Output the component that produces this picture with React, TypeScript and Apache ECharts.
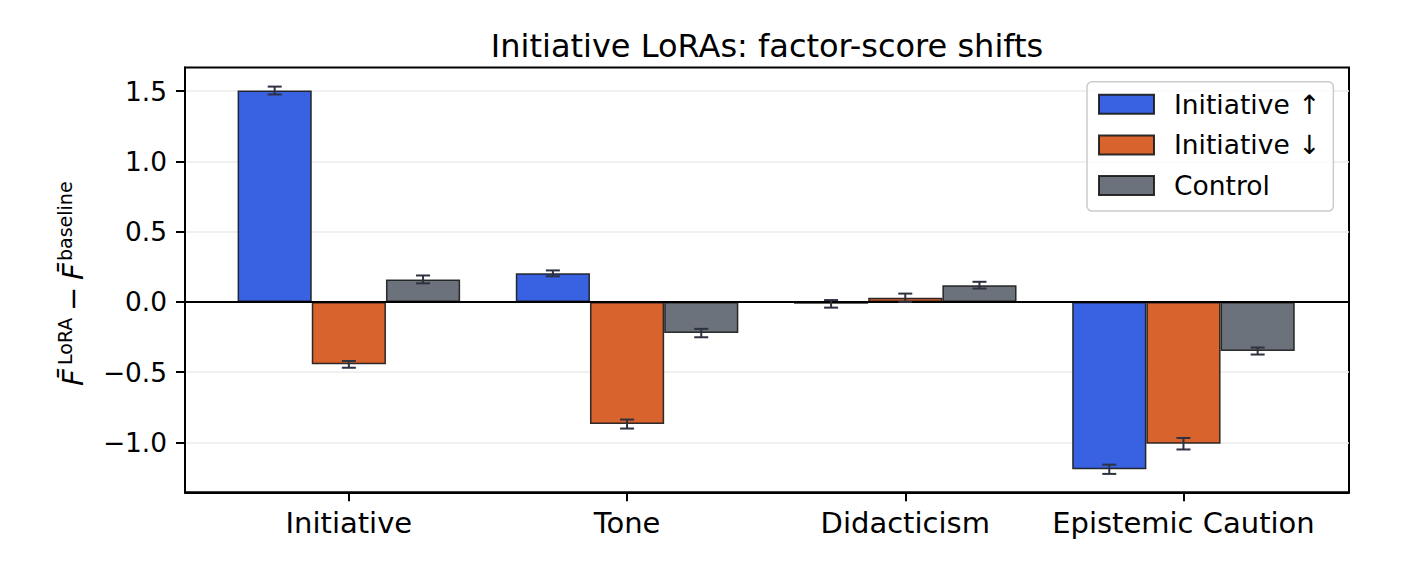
import React, { useEffect, useRef } from 'react';
import * as echarts from 'echarts';

const categories = ['Initiative', 'Tone', 'Didacticism', 'Epistemic Caution'];
const categoryTicks = [0, 1, 2, 3];
const seriesNames = ['Initiative ↑', 'Initiative ↓', 'Control'];
const upValues = [1.505, 0.203, -0.014, -1.192];
const upErrors = [0.028, 0.021, 0.027, 0.033];
const downValues = [-0.445, -0.87, 0.029, -1.01];
const downErrors = [0.024, 0.032, 0.03, 0.041];
const controlValues = [0.16, -0.222, 0.119, -0.35];
const controlErrors = [0.028, 0.03, 0.024, 0.025];
const yTicks = [-1.0, -0.5, 0.0, 0.5, 1.0, 1.5];
const yTickLabels = ['\u22121.0', '\u22120.5', '0.0', '0.5', '1.0', '1.5'];

const FONT = '"DejaVu Sans", "Liberation Sans", sans-serif';
const colors = ['#2251DF', '#D45215', '#5C636D'];
const groupWidth = 0.8;

export default function App() {
  const ref = useRef<HTMLDivElement>(null);
  useEffect(() => {
    if (!ref.current) return;
    const chart = echarts.init(ref.current, undefined, { renderer: 'svg' });
    const allValues = [upValues, downValues, controlValues];
    const allErrors = [upErrors, downErrors, controlErrors];
    const bw = groupWidth / 3;

    const barSeries: any[] = allValues.map((vals, s) => ({
      name: seriesNames[s],
      type: 'bar',
      data: vals.map((v, i) => [categoryTicks[i], v]),
      barGap: '0%',
      barCategoryGap: '20%',
      itemStyle: { color: colors[s], opacity: 0.9, borderColor: '#1a1a1a', borderWidth: 1.5 },
      emphasis: { disabled: true },
      silent: true,
      z: 2,
      ...(s === 0
        ? {
            markLine: {
              silent: true,
              symbol: ['none', 'none'],
              label: { show: false },
              lineStyle: { color: '#000', width: 2, type: 'solid' },
              data: [{ yAxis: 0 }],
              animation: false,
            },
          }
        : {}),
    }));

    const errSeries: any[] = allValues.map((vals, s) => ({
      name: seriesNames[s] + ' err',
      type: 'custom',
      silent: true,
      z: 5,
      encode: { x: 0, y: 1 },
      data: vals.map((v, i) => [categoryTicks[i], v, allErrors[s][i]]),
      renderItem: (params: any, api: any) => {
        const x = api.value(0) + (s - 1) * bw;
        const v = api.value(1);
        const e = api.value(2);
        const top = api.coord([x, v + e]);
        const bot = api.coord([x, v - e]);
        const cap = 7;
        const st = { stroke: '#2e3140', lineWidth: 2 };
        return {
          type: 'group',
          children: [
            { type: 'line', shape: { x1: top[0], y1: top[1], x2: bot[0], y2: bot[1] }, style: st },
            { type: 'line', shape: { x1: top[0] - cap, y1: top[1], x2: top[0] + cap, y2: top[1] }, style: st },
            { type: 'line', shape: { x1: bot[0] - cap, y1: bot[1], x2: bot[0] + cap, y2: bot[1] }, style: st },
          ],
        };
      },
    }));

    const option: any = {
      animation: false,
      textStyle: { fontFamily: FONT },
      title: {
        text: 'Initiative LoRAs: factor-score shifts',
        left: 767,
        textAlign: 'center',
        top: 29.5,
        padding: 0,
        textStyle: { fontFamily: FONT, fontSize: 32, fontWeight: 'normal', color: '#000' },
      },
      grid: {
        left: 185,
        right: 73,
        top: 67.5,
        bottom: 75.7,
        show: true,
        borderColor: '#000',
        borderWidth: 2,
        backgroundColor: 'transparent',
      },
      legend: {
        data: seriesNames,
        orient: 'vertical',
        left: 1087,
        top: 81.7,
        padding: [9, 13, 12, 11],
        itemWidth: 55,
        itemHeight: 19,
        itemGap: 13.7,
        icon: 'rect',
        selectedMode: false,
        backgroundColor: 'rgba(255,255,255,0.8)',
        borderColor: '#cccccc',
        borderWidth: 1.5,
        borderRadius: 5,
        textStyle: { fontFamily: FONT, fontSize: 26.5, lineHeight: 26, color: '#000', padding: [0, 0, 0, 15] },
      },
      xAxis: {
        type: 'value',
        min: -0.589,
        max: 3.595,
        axisLine: { show: true, onZero: false, lineStyle: { color: '#000', width: 2 } },
        axisTick: { show: true, length: 9, customValues: categoryTicks, lineStyle: { color: '#000', width: 2 } },
        axisLabel: {
          customValues: categoryTicks,
          margin: 16,
          fontSize: 29,
          color: '#000',
          fontFamily: FONT,
          formatter: (v: number) => categories[Math.round(v)] ?? '',
        },
        splitLine: { show: false },
      },
      yAxis: {
        type: 'value',
        min: -1.356,
        max: 1.669,
        axisLine: { show: true, onZero: false, lineStyle: { color: '#000', width: 2 } },
        axisTick: { show: true, length: 9, customValues: yTicks, lineStyle: { color: '#000', width: 2 } },
        axisLabel: {
          customValues: yTicks,
          margin: 18,
          fontSize: 26.4,
          color: '#000',
          fontFamily: FONT,
          formatter: (v: number) => {
            const idx = yTicks.findIndex((t) => Math.abs(t - v) < 1e-6);
            return idx >= 0 ? yTickLabels[idx] : '';
          },
        },
        splitLine: { show: true, lineStyle: { color: '#ebebeb', width: 1.5 } },
      },
      graphic: [
        {
          type: 'group',
          x: 83,
          y: 386,
          rotation: Math.PI / 2,
          silent: true,
          children: [
            { type: 'text', x: 0, y: -10, style: { text: 'F\u0304', font: 'italic 29px ' + FONT, fill: '#000', align: 'left', verticalAlign: 'middle' } },
            { type: 'text', x: 21, y: -18, style: { text: 'LoRA', font: '19px ' + FONT, fill: '#000', align: 'left', verticalAlign: 'middle' } },
            { type: 'text', x: 75, y: -10, style: { text: '\u2212', font: '29px ' + FONT, fill: '#000', align: 'left', verticalAlign: 'middle' } },
            { type: 'text', x: 106, y: -10, style: { text: 'F\u0304', font: 'italic 29px ' + FONT, fill: '#000', align: 'left', verticalAlign: 'middle' } },
            { type: 'text', x: 125, y: -18, style: { text: 'baseline', font: '19px ' + FONT, fill: '#000', align: 'left', verticalAlign: 'middle' } },
          ],
        },
      ],
      series: [...barSeries, ...errSeries],
    };
    chart.setOption(option);
    return () => chart.dispose();
  }, []);
  return (
    <div
      ref={ref}
      style={{ position: 'fixed', left: 0, top: 0, width: 1422, height: 568, background: '#fff' }}
    />
  );
}
